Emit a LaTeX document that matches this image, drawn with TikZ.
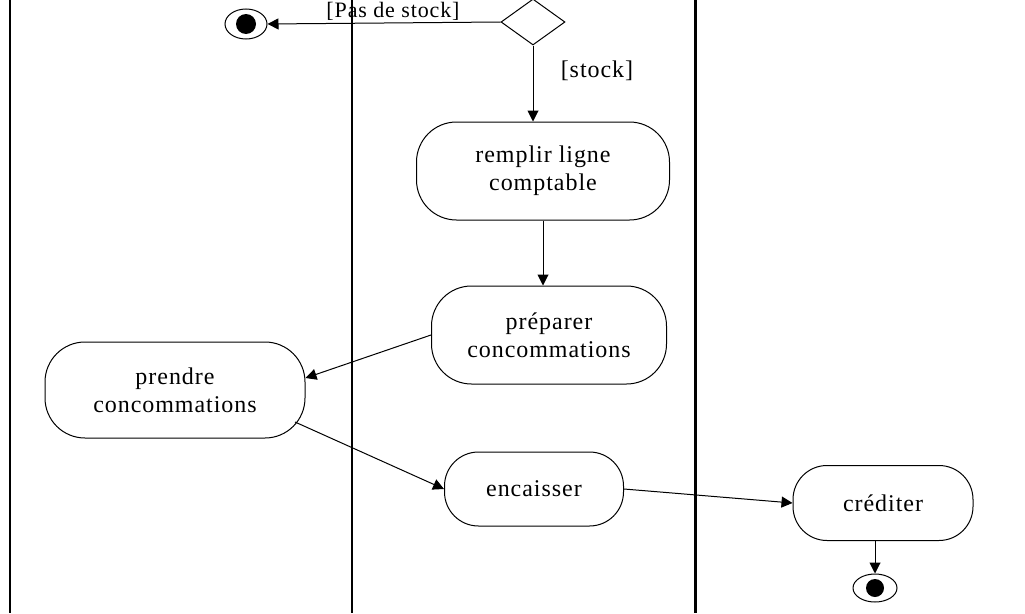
\documentclass[tikz,border=0pt]{standalone}
\usepackage{fontspec}
\setmainfont{Liberation Serif}[LetterSpace=4]
\usetikzlibrary{arrows.meta,shapes.geometric}
\begin{document}
\begin{tikzpicture}[x=1pt,y=-1pt,
  act/.style={draw,line width=1pt,rounded corners=40pt,align=center,font=\fontsize{24}{28}\selectfont},
  acts/.style={act,rounded corners=34pt},
  arr/.style={draw,line width=1pt,-{Triangle[length=11pt,width=11pt]}},
  fin/.style={draw,line width=1pt,ellipse,minimum width=42pt,minimum height=30pt,inner sep=0pt},
  lane/.style={line width=1.2pt},
  lbl/.style={font=\fontsize{24}{28}\selectfont,inner sep=1pt}]
\useasboundingbox (0,0) rectangle (1025,613);
\fill[white] (0,0) rectangle (1025,613);
% swimlanes
\draw[lane] (10,0) -- (10,613);
\draw[lane] (352,0) -- (352,613);
\draw[line width=3pt] (695,0) -- (695,613);
% nodes
\node[draw,line width=1pt,diamond,minimum width=64pt,minimum height=46pt,inner sep=0pt] (dec) at (533,22) {};
\node[fin] (f1) at (246,24) {};
\fill (f1.center) ellipse (10pt and 10pt);
\node[act,minimum width=253pt,minimum height=98pt] (rem) at (543,171) {remplir ligne\\comptable};
\node[act,minimum width=235pt,minimum height=98pt] (pre) at (549,335) {préparer\\concommations};
\node[act,minimum width=260pt,minimum height=96pt] (pri) at (175,390) {prendre\\concommations};
\node[acts,minimum width=179pt,minimum height=74pt] (enc) at (534,489) {encaisser};
\node[acts,minimum width=180pt,minimum height=75pt] (cre) at (883,503) {créditer};
\node[fin,minimum width=44pt,minimum height=28pt] (f2) at (875,588) {};
\fill (f2.center) ellipse (9pt and 9pt);
% labels
\node[lbl,font=\fontsize{22}{26}\selectfont] (pas) at (393,11) {[Pas de stock]};
\node[lbl] (stk) at (597,71) {[stock]};
% connectors
\coordinate (pse) at (295,422);
\draw[arr] (dec.west) -- (f1.east);
\draw[arr] (dec.south) -- (rem.north -| dec.south);
\draw[arr] (rem.south) -- (pre.north -| rem.south);
\draw[arr] (pre.west) -- ([yshift=12pt]pri.east);
\draw[arr] (pse) -- (enc.west);
\draw[arr] (enc.east) -- (cre.west);
\draw[arr] (cre.south -| f2.north) -- (f2.north);
\end{tikzpicture}
\end{document}
